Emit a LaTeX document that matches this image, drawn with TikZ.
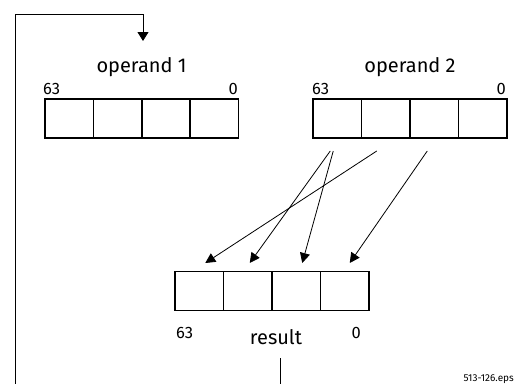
\documentclass[tikz,border=0pt]{standalone}
\usepackage{fontspec}
\setmainfont{Fira Sans}
\usetikzlibrary{arrows.meta,positioning,calc}

\begin{document}
\begin{tikzpicture}[x=1pt,y=-1pt,
    cell/.style={draw,line width=1.6pt,minimum width=48.4pt,minimum height=39pt,inner sep=0pt,outer sep=0pt},
    title/.style={font=\fontsize{20}{24}\selectfont,inner sep=0pt},
    bitno/.style={font=\fontsize{16.5}{19}\selectfont,inner sep=0pt},
    wire/.style={-{Triangle[length=10pt,width=10pt]},line width=0.8pt},
    feedback/.style={-{Triangle[length=9pt,width=11pt]},line width=0.9pt}]
  \clip (0,0) rectangle (516,383);
  % Operand 1 register
  \foreach \i in {1,...,4}
    \node[cell] (opa-\i) at ({45+48.4*(\i-0.5)},118.5) {};
  \node[title, anchor=base] (lbla) at (141.5,72) {operand 1};
  \node[bitno, anchor=base west] (opa-hi) at (43,94) {63};
  \node[bitno, anchor=base east] (opa-lo) at (238,94) {0};
  % Operand 2 register
  \foreach \i in {1,...,4}
    \node[cell] (opb-\i) at ({313+48.5*(\i-0.5)},118.5) {};
  \node[title, anchor=base] (lblb) at (410,72) {operand 2};
  \node[bitno, anchor=base west] (opb-hi) at (312,94) {63};
  \node[bitno, anchor=base east] (opb-lo) at (506,94) {0};
  % Result register
  \foreach \i in {1,...,4}
    \node[cell] (res-\i) at ({175+48.5*(\i-0.5)},291) {};
  \node[title, anchor=base] (lblr) at (276,344) {result};
  \node[bitno, anchor=base west] (res-hi) at (176,338) {63};
  \node[bitno, anchor=base east] (res-lo) at (361,338) {0};
  % Shuffle arrows
  \draw[wire] ($(opb-2.south)+(-9,13)$) -- ($(res-1.north)+(6,-8.5)$);
  \draw[wire] ($(opb-1.south)+(-7,13)$) -- ($(res-2.north)+(2,-8.5)$);
  \draw[wire] ($(opb-1.south)+(-4,13)$) -- ($(res-3.north)+(6,-8.5)$);
  \draw[wire] ($(opb-3.south)+(-7,13)$) -- ($(res-4.north)+(5,-8.5)$);
  % Feedback loop
  \coordinate (fbout) at (280.5,358);
  \coordinate (fbin) at (143,41);
  \draw[feedback] (fbout) -- ++(0,40) -| (15,14) -| (fbin);
  \node[font=\fontsize{10}{12}\selectfont, anchor=base east, inner sep=0pt] (fname) at (514,381) {513-126.eps};
\end{tikzpicture}
\end{document}
